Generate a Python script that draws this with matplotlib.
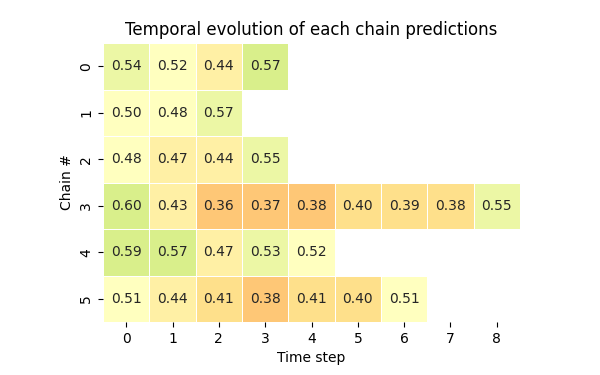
import numpy as np
import matplotlib
matplotlib.use("Agg")
import matplotlib.pyplot as plt
import seaborn as sns

# Per-chain prediction scores over time; NaN where the chain had stopped.
chains = [0, 1, 2, 3, 4, 5]
steps = [0, 1, 2, 3, 4, 5, 6, 7, 8]
chain0 = [0.54, 0.52, 0.44, 0.572]
chain1 = [0.50, 0.48, 0.566]
chain2 = [0.48, 0.47, 0.44, 0.55]
chain3 = [0.60, 0.43, 0.36, 0.37, 0.375, 0.40, 0.39, 0.384, 0.55]
chain4 = [0.59, 0.572, 0.47, 0.53, 0.52]
chain5 = [0.51, 0.44, 0.41, 0.38, 0.41, 0.40, 0.51]

rows = [chain0, chain1, chain2, chain3, chain4, chain5]
grid = np.full((len(chains), len(steps)), np.nan)
for i, r in enumerate(rows):
    grid[i, :len(r)] = r

# discrete red-yellow-green, 21 levels over [0, 1]
cmap = matplotlib.colormaps["RdYlGn"].resampled(21)

fig = plt.figure(figsize=(6, 3.75), dpi=100)
ax = fig.add_axes([103 / 600, 53 / 375, 417 / 600, 279 / 375])
sns.heatmap(grid, ax=ax, cmap=cmap, vmin=0, vmax=1, annot=True, fmt=".2f",
            linewidths=0.5, linecolor="white", cbar=False,
            xticklabels=steps, yticklabels=chains)
ax.set_title("Temporal evolution of each chain predictions")
ax.set_xlabel("Time step")
ax.set_ylabel("Chain #")
fig.savefig("out.png", dpi=100)
